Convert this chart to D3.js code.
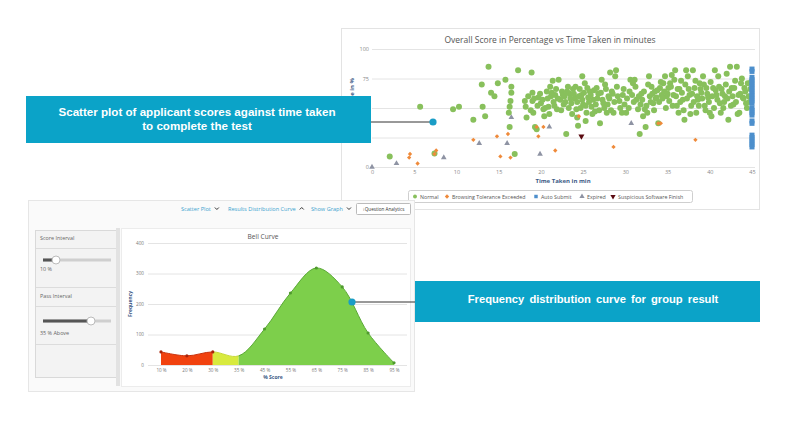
<!DOCTYPE html>
<html>
<head>
<meta charset="utf-8">
<script src="https://cdn.jsdelivr.net/npm/d3@7/dist/d3.min.js"></script>
<style>
  body { margin: 0; background: #fff; }
  svg { display: block; font-family: "Open Sans", sans-serif; }
  .callout { font-family: "Liberation Sans", Arial, sans-serif; font-weight: bold; fill: #fff; }
</style>
</head>
<body>
<svg id="page" width="807" height="430"></svg>
<script>
// ---- scatter data: [minutes, score %] ----
const normal = [
  [2.1,9],[5.7,51],[9.6,49],[10.3,51],[7.4,11.5],[12.0,40],[13.0,70],[13.1,51],[13.4,43],[13.8,85],
  [14.1,63],[14.5,60],[14.9,71],[15.8,74],[16.3,51],[16.5,68],[16.5,63],[16.4,56],[16.3,34],[16.2,46],
  [16.9,11],[17.3,82],[18.1,56],[18.2,51],[18.3,42],[18.9,80],[19.0,63],[19.0,56],[19.1,46],[19.3,34],
  [19.5,32],[19.7,59],[20.0,54],[20.3,49],[20.4,43],[20.7,64],[20.9,51],[21.1,68],[21.2,60],[21.4,73],
  [21.5,55],[21.7,61],[21.9,49],[22.1,74],[22.3,57],[22.5,64],[22.7,53],[22.8,60],[23.0,28],[23.2,68],
  [23.4,62],[23.6,54],[23.8,66],[24.0,58],[24.2,49],[24.3,42],[24.4,35],[24.6,66],[24.8,61],[24.9,77],
  [25.0,53],[25.2,71],[25.3,39],[25.4,46],[25.6,59],[25.8,64],[26.0,51],[26.2,57],[26.4,47],[26.6,67],
  [26.8,62],[27.0,37],[27.2,74],[27.4,54],[27.6,70],[27.8,46],[28.0,60],[28.2,80],[28.4,64],[28.6,46],
  [28.8,77],[28.9,82],[29.0,68],[29.3,56],[29.6,46],[29.7,61],[29.9,53],[30.1,46],[30.5,64],[30.6,74],
  [30.9,71],[31.1,74],[31.3,57],[31.5,49],[31.7,28],[31.9,62],[32.1,43],[32.3,49],[32.4,34],[32.6,46],
  [32.8,77],[32.9,60],[33.1,68],[33.3,54],[33.5,64],[33.7,59],[33.9,37],[34.1,67],[34.3,61],[34.5,71],
  [34.7,77],[34.9,60],[35.1,67],[35.3,71],[35.5,78],[35.7,61],[35.9,82],[36.1,52],[36.3,46],[36.4,66],
  [36.6,73],[36.8,57],[37.0,40],[37.2,82],[37.4,77],[37.6,61],[37.8,52],[38.0,82],[38.2,67],[38.4,46],
  [38.6,57],[38.8,71],[39.0,63],[39.2,77],[39.4,52],[39.6,67],[39.8,59],[40.0,46],[40.2,43],[40.4,67],
  [40.6,82],[40.8,61],[41.0,77],[41.2,54],[41.4,66],[41.6,50],[41.8,60],[42.0,79],[42.2,40],[42.4,85],
  [42.6,67],[42.8,53],[43.0,73],[43.2,85],[43.4,61],[43.5,46],[43.7,71],[43.9,59],[44.1,67],[44.3,54],
  [44.5,71],
  [18.5,60],[18.8,48],[19.2,58],[19.6,52],[19.9,62],[20.2,57],[20.5,50],[20.8,58],[21.0,45],[21.3,63],
  [21.6,52],[21.8,66],[22.0,58],[22.4,48],[22.6,61],[22.9,55],[23.1,64],[23.3,50],[23.5,58],[23.7,45],
  [23.9,62],[24.1,68],[24.3,55],[24.5,60],[24.7,50],[24.9,57],[25.1,63],[25.3,52],[25.5,67],[25.7,55],
  [25.9,61],[26.1,45],[26.3,65],[26.5,53],[26.7,58],[26.9,48],[27.1,63],[27.3,57],[27.5,50],[27.7,66],
  [27.9,53],[28.1,58],[28.3,48],[28.5,62],[28.7,55],[29.1,60],[29.4,50],[29.8,66],[30.2,58],[30.4,50],
  [30.8,61],[31.0,55],[31.2,68],[31.6,60],[31.8,53],[32.0,57],[32.2,64],[32.5,52],[32.7,70],[33.0,55],
  [33.2,62],[33.4,48],[33.6,58],[33.8,65],[34.0,55],[34.2,72],[34.4,58],[34.6,64],[34.8,50],[35.0,62],
  [35.2,56],[35.4,68],[35.6,52],[35.8,74],[36.0,60],[36.2,66],[36.5,55],[36.7,63],[36.9,48],[37.1,70],
  [37.3,58],[37.5,66],[37.7,45],[37.9,62],[38.1,55],[38.3,73],[38.5,60],[38.7,52],[38.9,66],[39.1,58],
  [39.3,70],[39.5,48],[39.7,62],[39.9,55],[40.1,72],[40.3,60],[40.5,50],[40.7,65],[40.9,57],[41.1,68],
  [41.3,46],[41.5,62],[41.7,55],[41.9,70],[42.1,58],[42.3,64],[42.5,52],[42.7,60],[42.9,67],[43.1,55],
  [43.3,45],[43.6,62],[43.8,75],[44.0,58],[44.2,64],[44.4,50],[44.6,60],[44.8,66],[44.7,55],[44.9,72]
];
const browsing = [
  [4.5,11],[4.4,8],[5.4,3],[7.6,14],[7.4,11],[12.0,23],[14.8,26],[15.2,9],[16.1,28],[16.4,8],
  [19.5,34],[19.7,26],[20.3,34],[21.7,14],[24.5,43],[28.6,17],[33.9,37],[34.2,37],[38.3,23]
];
const autoSubmit = [
  [45,83],[45,81],[45,76],[45,74],[45,72],[45,70],[45,68],[45,66],[45,64],[45,62],[45,60],[45,58],
  [45,56],[45,54],[45,50],[45,48],[45,46],[45,44],[45,39],[45,37],[45,27],[45,25],[45,23],[45,21],
  [45,19],[45,17]
];
const expired = [
  [0,0],[2.9,3],[8.5,8],[12.7,20],[16.0,20],[16.5,42],[19.9,11],[21.0,34],[30.7,37]
];
const suspicious = [[24.8,26]];
const scatterXTicks = [0,5,10,15,20,25,30,35,40,45];
const scatterYTicks = [0,25,50,75,100];

// ---- bell curve data ----
const bellCats = ['10 %','20 %','30 %','35 %','45 %','55 %','65 %','75 %','85 %','95 %'];
const bellFreq = [43, 30, 43, 30, 118, 236, 318, 256, 105, 7];
const bellYTicks = [0,100,200,300,400];

const svg = d3.select('#page');

// ================= scatter panel =================
svg.append('rect').attr('x', 341.5).attr('y', 28.5).attr('width', 418).attr('height', 181)
  .attr('fill', '#fff').attr('stroke', '#e3e3e3');

const x = d3.scaleLinear().domain([0, 45]).range([372, 752]);
const y = d3.scaleLinear().domain([0, 100]).range([167, 49]);

svg.append('text').attr('x', 550).attr('y', 43).attr('text-anchor', 'middle')
  .attr('font-size', 8.5).attr('fill', '#555').text('Overall Score in Percentage vs Time Taken in minutes');

const sg = svg.append('g');
sg.append('g').attr('transform', 'translate(372,0)')
  .call(d3.axisLeft(y).tickValues(scatterYTicks).tickSize(-383).tickPadding(3))
  .call(g => g.select('.domain').remove())
  .call(g => g.selectAll('line').attr('stroke', '#e4e4e4'))
  .call(g => g.selectAll('text').attr('font-size', 5.5).attr('fill', '#888').attr('font-family', 'Open Sans'));

sg.append('g').attr('transform', 'translate(0,167)')
  .call(d3.axisBottom(x).tickValues(scatterXTicks).tickSize(0).tickPadding(3))
  .call(g => g.select('.domain').remove())
  .call(g => g.selectAll('text').attr('font-size', 5.5).attr('fill', '#888').attr('font-family', 'Open Sans'));

sg.append('text').attr('x', 563).attr('y', 183).attr('text-anchor', 'middle')
  .attr('font-size', 6).attr('font-weight', 'bold').attr('fill', '#3c5a86').text('Time Taken in min');
sg.append('text').attr('transform', 'translate(354,78) rotate(-90)').attr('text-anchor', 'end')
  .attr('font-size', 6).attr('font-weight', 'bold').attr('fill', '#3c5a86').text('Score in %');

const colors = { normal: '#88c05c', browsing: '#ef8a3a', auto: '#4d8fcc', expired: '#8e93a3', susp: '#5a0a10' };

sg.selectAll('.normal').data(normal).enter().append('circle')
  .attr('cx', d => x(d[0])).attr('cy', d => y(d[1])).attr('r', 3)
  .attr('fill', colors.normal);
sg.selectAll('.browsing').data(browsing).enter().append('path')
  .attr('d', d3.symbol(d3.symbolDiamond2, 12))
  .attr('transform', d => `translate(${x(d[0])},${y(d[1])})`).attr('fill', colors.browsing);
sg.selectAll('.expired').data(expired).enter().append('path')
  .attr('d', d3.symbol(d3.symbolTriangle, 14))
  .attr('transform', d => `translate(${x(d[0])},${y(d[1])})`).attr('fill', colors.expired);
sg.selectAll('.auto').data(autoSubmit).enter().append('rect')
  .attr('x', d => x(d[0]) - 2.5).attr('y', d => y(d[1]) - 2.5).attr('width', 5).attr('height', 5)
  .attr('fill', colors.auto);
sg.selectAll('.susp').data(suspicious).enter().append('path')
  .attr('d', d3.symbol(d3.symbolTriangle, 16))
  .attr('transform', d => `translate(${x(d[0])},${y(d[1])}) rotate(180)`).attr('fill', colors.susp);

// legend
const legend = svg.append('g');
legend.append('rect').attr('x', 408.5).attr('y', 190.5).attr('width', 284).attr('height', 12).attr('rx', 2)
  .attr('fill', '#fff').attr('stroke', '#cfcfcf');
const legendItems = [
  { label: 'Normal', x: 415, sym: d3.symbolCircle, c: colors.normal, rot: 0 },
  { label: 'Browsing Tolerance Exceeded', x: 447, sym: d3.symbolDiamond2, c: colors.browsing, rot: 0 },
  { label: 'Auto Submit', x: 536, sym: d3.symbolSquare, c: colors.auto, rot: 0 },
  { label: 'Expired', x: 582, sym: d3.symbolTriangle, c: colors.expired, rot: 0 },
  { label: 'Suspicious Software Finish', x: 613, sym: d3.symbolTriangle, c: colors.susp, rot: 180 }
];
legendItems.forEach(it => {
  legend.append('path').attr('d', d3.symbol(it.sym, 12))
    .attr('transform', `translate(${it.x},196.5) rotate(${it.rot})`).attr('fill', it.c);
  legend.append('text').attr('x', it.x + 5).attr('y', 198.6).attr('font-size', 5.3).attr('fill', '#555').text(it.label);
});

// ================= bell panel =================
const bp = svg.append('g');
bp.append('rect').attr('x', 28.5).attr('y', 200.5).attr('width', 386).attr('height', 191)
  .attr('fill', '#fafafa').attr('stroke', '#e6e6e6');

const toolbar = [
  { t: 'Scatter Plot', x: 181, arrow: 'v' },
  { t: 'Results Distribution Curve', x: 228, arrow: '^' },
  { t: 'Show Graph', x: 311, arrow: 'v' }
];
toolbar.forEach(b => {
  const tx = bp.append('text').attr('x', b.x).attr('y', 211).attr('font-size', 5.6).attr('fill', '#3aa3cf').text(b.t);
  const w = tx.node().getComputedTextLength();
  const ax = b.x + w + 4;
  const pts = b.arrow === 'v'
    ? [[ax, 207.5], [ax + 2, 209.5], [ax + 4, 207.5]]
    : [[ax, 209.5], [ax + 2, 207.5], [ax + 4, 209.5]];
  bp.append('polyline').attr('points', pts.join(' ')).attr('fill', 'none').attr('stroke', '#333').attr('stroke-width', 1);
});
bp.append('rect').attr('x', 356.5).attr('y', 203.5).attr('width', 54).attr('height', 11).attr('rx', 1)
  .attr('fill', '#fff').attr('stroke', '#bbb');
bp.append('text').attr('x', 383.5).attr('y', 210.8).attr('text-anchor', 'middle').attr('font-size', 4.6)
  .attr('fill', '#333').text('⁝ Question Analytics');

// sidebar
bp.append('rect').attr('x', 35.5).attr('y', 230.5).attr('width', 81).attr('height', 147)
  .attr('fill', '#f3f3f3').attr('stroke', '#d9d9d9');
bp.append('rect').attr('x', 116).attr('y', 228).attr('width', 4).attr('height', 158).attr('fill', '#e2e2e2');
[248, 287, 306, 344].forEach(yy => {
  bp.append('line').attr('x1', 36).attr('x2', 116).attr('y1', yy + 0.5).attr('y2', yy + 0.5).attr('stroke', '#dcdcdc');
});
bp.append('text').attr('x', 40).attr('y', 240).attr('font-size', 5.4).attr('fill', '#666').text('Score Interval');
bp.append('text').attr('x', 40).attr('y', 298).attr('font-size', 5.4).attr('fill', '#666').text('Pass Interval');
bp.append('text').attr('x', 40).attr('y', 271).attr('font-size', 5.4).attr('fill', '#666').text('10 %');
bp.append('text').attr('x', 40).attr('y', 335).attr('font-size', 5.4).attr('fill', '#666').text('35 % Above');
function slider(yy, thumbX) {
  bp.append('rect').attr('x', 43).attr('y', yy - 1.5).attr('width', 68).attr('height', 3).attr('fill', '#cfcfcf');
  bp.append('rect').attr('x', 43).attr('y', yy - 1.5).attr('width', thumbX - 43).attr('height', 3).attr('fill', '#555');
  bp.append('circle').attr('cx', thumbX).attr('cy', yy).attr('r', 4).attr('fill', '#fff').attr('stroke', '#bbb');
}
slider(260, 56);
slider(321, 91);

// chart area
bp.append('rect').attr('x', 121.5).attr('y', 228.5).attr('width', 289).attr('height', 158)
  .attr('fill', '#fff').attr('stroke', '#ececec');
bp.append('text').attr('x', 263).attr('y', 239).attr('text-anchor', 'middle').attr('font-size', 6.6)
  .attr('fill', '#555').text('Bell Curve');

const xb = d3.scalePoint().domain(bellCats).range([161, 394]);
const yb = d3.scaleLinear().domain([0, 400]).range([365, 243]);

bp.append('g').attr('transform', 'translate(148,0)')
  .call(d3.axisLeft(yb).tickValues(bellYTicks).tickSize(-259).tickPadding(4))
  .call(g => g.select('.domain').remove())
  .call(g => g.selectAll('line').attr('stroke', '#e4e4e4'))
  .call(g => g.selectAll('text').attr('font-size', 4.6).attr('fill', '#777').attr('font-family', 'Open Sans'));
bp.append('g').attr('transform', 'translate(0,365)')
  .call(d3.axisBottom(xb).tickSize(0).tickPadding(4))
  .call(g => g.select('.domain').remove())
  .call(g => g.selectAll('text').attr('font-size', 4.6).attr('fill', '#777').attr('font-family', 'Open Sans'));
bp.append('text').attr('x', 273).attr('y', 379).attr('text-anchor', 'middle').attr('font-size', 5)
  .attr('font-weight', 'bold').attr('fill', '#3c5a86').text('% Score');
bp.append('text').attr('transform', 'translate(132,304) rotate(-90)').attr('text-anchor', 'middle')
  .attr('font-size', 5).attr('font-weight', 'bold').attr('fill', '#3c5a86').text('Frequency');

const bellData = bellCats.map((c, i) => ({ c, v: bellFreq[i] }));
const zones = [
  { from: '10 %', to: '30 %', fill: '#f1420f', line: '#c8300a' },
  { from: '30 %', to: '35 %', fill: '#d8ea3e', line: '#c6d838' },
  { from: '35 %', to: '95 %', fill: '#7dcf4b', line: '#5aa836' }
];
const area = d3.area().x(d => xb(d.c)).y0(yb(0)).y1(d => yb(d.v)).curve(d3.curveCatmullRom.alpha(0.5));
const line = d3.line().x(d => xb(d.c)).y(d => yb(d.v)).curve(d3.curveCatmullRom.alpha(0.5));
const defs = svg.append('defs');
zones.forEach((z, i) => {
  defs.append('clipPath').attr('id', 'zone' + i).append('rect')
    .attr('x', xb(z.from)).attr('y', 230).attr('width', xb(z.to) - xb(z.from)).attr('height', 140);
  bp.append('path').attr('d', area(bellData)).attr('fill', z.fill).attr('clip-path', `url(#zone${i})`);
  bp.append('path').attr('d', line(bellData)).attr('fill', 'none').attr('stroke', z.line)
    .attr('stroke-width', 1).attr('clip-path', `url(#zone${i})`);
});
const markerColor = ['#a8240a', '#a8240a', '#a8240a', null, '#4f9a2e', '#4f9a2e', '#4f9a2e', '#4f9a2e', '#4f9a2e', '#4f9a2e'];
bp.selectAll('.bm').data(bellData.filter((d, i) => markerColor[i])).enter().append('circle')
  .attr('cx', d => xb(d.c)).attr('cy', d => yb(d.v)).attr('r', 1.6)
  .attr('fill', d => markerColor[bellCats.indexOf(d.c)]);

// ================= callouts =================
const teal = '#0ba3c8';
svg.append('rect').attr('x', 26).attr('y', 96).attr('width', 345).attr('height', 47).attr('fill', teal);
svg.append('text').attr('class', 'callout').attr('x', 197).attr('y', 116).attr('text-anchor', 'middle')
  .attr('font-size', 11.6).text('Scatter plot of applicant scores against time taken');
svg.append('text').attr('class', 'callout').attr('x', 197).attr('y', 129.5).attr('text-anchor', 'middle')
  .attr('font-size', 11.6).text('to complete the test');
svg.append('line').attr('x1', 371).attr('x2', 433).attr('y1', 122).attr('y2', 122).attr('stroke', '#333').attr('stroke-width', 1);
svg.append('circle').attr('cx', 433).attr('cy', 122).attr('r', 3.6).attr('fill', '#1a9dc6');

svg.append('rect').attr('x', 415).attr('y', 281).attr('width', 345).attr('height', 41).attr('fill', teal);
svg.append('text').attr('class', 'callout').attr('x', 593).attr('y', 303).attr('text-anchor', 'middle')
  .attr('font-size', 11.2).attr('word-spacing', 2).text('Frequency distribution curve for group result');
svg.append('line').attr('x1', 352).attr('x2', 415).attr('y1', 302).attr('y2', 302).attr('stroke', '#333').attr('stroke-width', 1);
svg.append('circle').attr('cx', 352).attr('cy', 302).attr('r', 3.6).attr('fill', '#1a9dc6');
</script>
</body>
</html>
